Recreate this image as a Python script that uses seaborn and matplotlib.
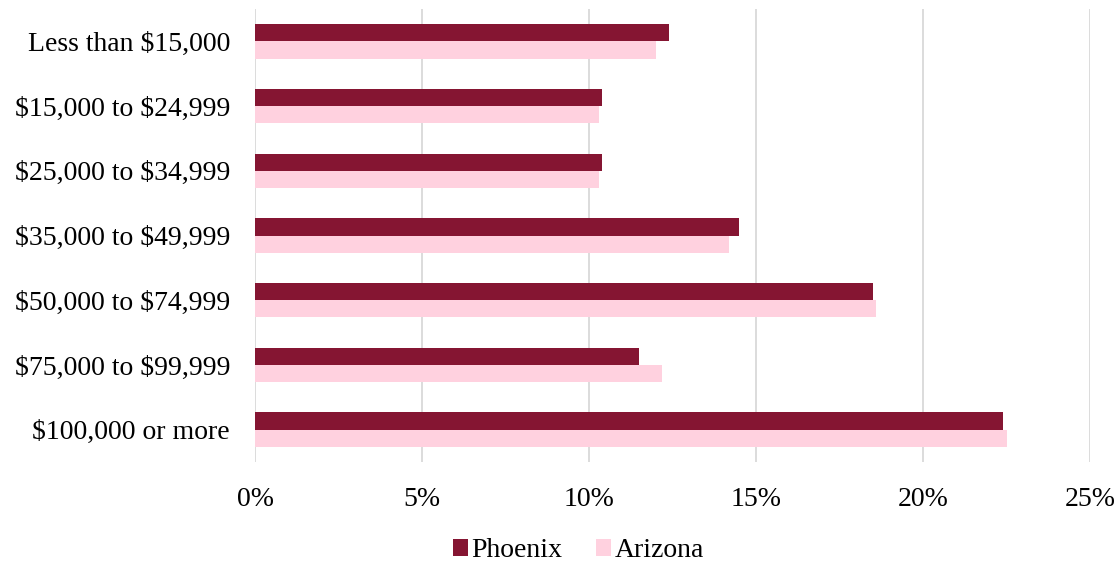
import numpy as np
import pandas as pd
import matplotlib
matplotlib.use("Agg")
import matplotlib.pyplot as plt
import seaborn as sns
from matplotlib.ticker import FuncFormatter

# Household income distribution, Phoenix vs Arizona (percent of households)
categories = [
    "Less than $15,000",
    "$15,000 to $24,999",
    "$25,000 to $34,999",
    "$35,000 to $49,999",
    "$50,000 to $74,999",
    "$75,000 to $99,999",
    "$100,000 or more",
]
phoenix = [12.4, 10.4, 10.4, 14.5, 18.5, 11.5, 22.4]
arizona = [12.0, 10.3, 10.3, 14.2, 18.6, 12.2, 22.5]
series = ["Phoenix", "Arizona"]
colors = ["#851532", "#FFD1DF"]

df = pd.DataFrame({
    "Income": categories * 2,
    "Share": phoenix + arizona,
    "Area": ["Phoenix"] * len(categories) + ["Arizona"] * len(categories),
})

sns.set_style("white")
plt.rcParams["font.family"] = ["Liberation Serif", "DejaVu Serif"]
plt.rcParams["text.parse_math"] = False
plt.rcParams["text.color"] = "black"

fig = plt.figure(figsize=(11.19, 5.62), dpi=100)
ax = fig.add_axes([255 / 1119, 1 - 462 / 562, (1090 - 255) / 1119, (462 - 9) / 562])

sns.barplot(data=df, y="Income", x="Share", hue="Area", hue_order=series,
            palette=colors, orient="h", width=0.53, saturation=1,
            order=categories, ax=ax, edgecolor="none")

ax.set_xlim(0, 25)
ax.set_xticks(np.arange(0, 26, 5))
ax.xaxis.set_major_formatter(FuncFormatter(lambda v, p: f"{v:.0f}%"))
ax.grid(axis="x", color="#D9D9D9", linewidth=1.3)
ax.set_axisbelow(True)
for s in ax.spines.values():
    s.set_visible(False)
ax.set_xlabel("")
ax.set_ylabel("")
ax.tick_params(axis="both", length=0, labelsize=20, colors="black")
ax.tick_params(axis="x", pad=18)
ax.tick_params(axis="y", pad=18)

leg = ax.legend(loc="center", bbox_to_anchor=(0.387, -0.196), ncol=2, frameon=False,
                fontsize=20, handlelength=0.55, handleheight=0.55, handletextpad=0.12,
                columnspacing=1.2)
for t in leg.get_texts():
    t.set_color("black")

fig.savefig("out.png", dpi=100)
